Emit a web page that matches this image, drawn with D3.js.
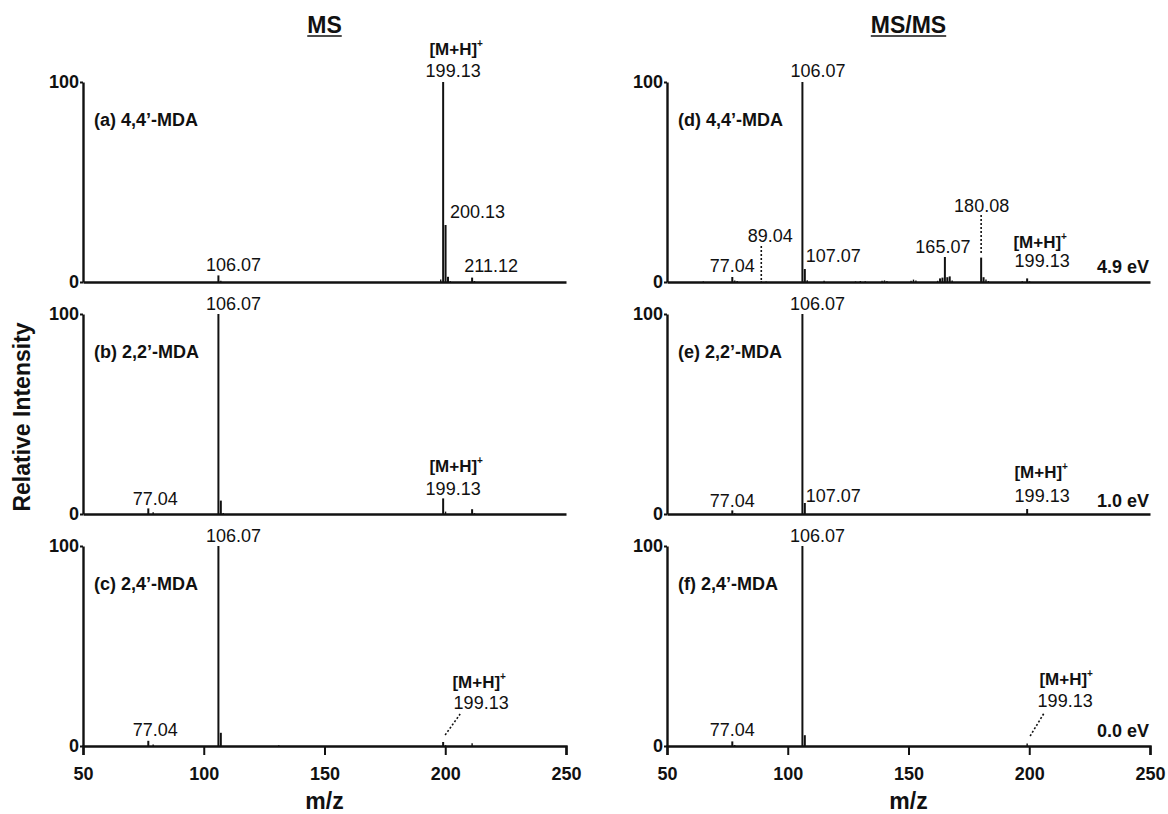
<!DOCTYPE html>
<html>
<head>
<meta charset="utf-8">
<script src="https://cdn.jsdelivr.net/npm/d3@7"></script>
<style>
  body { margin: 0; background: #fff; }
  svg text { font-family: "Liberation Sans", Arial, Helvetica, sans-serif; fill: #111; }
</style>
</head>
<body>
<svg id="chart" width="1168" height="814"></svg>
<script>
'use strict';

//#region data
const mzTicks = [50, 100, 150, 200, 250];
const intTicks = [0, 100];
const columnTitles = ['MS', 'MS/MS'];
const panelNames = ['(a) 4,4’-MDA', '(b) 2,2’-MDA', '(c) 2,4’-MDA', '(d) 4,4’-MDA', '(e) 2,2’-MDA', '(f) 2,4’-MDA'];
const energies = ['', '', '', '4.9 eV', '1.0 eV', '0.0 eV'];

// [m/z, relative intensity %]
const peaksA = [[106.07, 3.3], [107.07, 0.6], [198.12, 1.2], [199.13, 100], [200.13, 28.5], [201.13, 2.6], [202.1, 0.4], [211.12, 2.2], [212.12, 0.5]];
const peaksB = [[77.04, 2.8], [79.05, 0.9], [106.07, 100], [107.07, 6.7], [108.08, 0.5], [199.13, 7.8], [200.13, 1.2], [211.12, 2.4], [212.12, 0.4]];
const peaksC = [[77.04, 2.6], [79.05, 0.8], [106.07, 100], [107.07, 6.6], [131.07, 0.4], [199.13, 2.0], [200.13, 0.4], [211.12, 1.4]];
const peaksD = [[65.05, 0.3], [77.04, 2.5], [78.05, 0.8], [79.05, 0.5], [89.04, 0.4], [91.05, 0.3], [106.07, 100], [107.07, 6.5], [108.07, 0.9],
  [115.05, 0.6], [128.06, 0.3], [130.07, 0.5], [132.08, 0.4], [139.05, 0.6], [140.06, 0.8], [141.07, 0.5], [151.05, 0.6], [152.06, 1.2],
  [153.07, 0.8], [162.06, 0.6], [163.06, 1.8], [164.06, 2.2], [165.07, 12.5], [166.07, 2.4], [167.07, 2.8], [168.08, 0.7], [180.08, 12.2],
  [181.08, 2.4], [182.08, 1.3], [183.09, 0.5], [197.11, 0.4], [199.13, 1.8], [200.13, 0.4]];
const peaksE = [[77.04, 1.8], [78.05, 0.4], [106.07, 100], [107.07, 5.5], [199.13, 2.5]];
const peaksF = [[77.04, 2.3], [78.05, 0.5], [106.07, 100], [107.07, 5.4], [199.13, 1.2]];

// peak annotations: text, m/z, height (intensity units) of the text baseline
const notesA = [['[M+H]', 199.13, 113.5], ['199.13', 199.13, 102.5], ['200.13', 200.13, 32], ['211.12', 211.12, 5], ['106.07', 106.07, 5.5]];
const notesB = [['106.07', 106.07, 102], ['77.04', 77.04, 4.5], ['[M+H]', 199.13, 21], ['199.13', 199.13, 9.5]];
const notesC = [['106.07', 106.07, 102], ['77.04', 77.04, 5], ['[M+H]', 199.13, 29], ['199.13', 199.13, 18.5]];
const notesD = [['106.07', 106.07, 102.5], ['77.04', 77.04, 5], ['89.04', 89.04, 20], ['107.07', 107.07, 10], ['165.07', 165.07, 14.5],
  ['180.08', 180.08, 35], ['[M+H]', 199.13, 17], ['199.13', 199.13, 7.5]];
const notesE = [['106.07', 106.07, 102], ['77.04', 77.04, 3.5], ['107.07', 107.07, 6], ['[M+H]', 199.13, 18], ['199.13', 199.13, 6]];
const notesF = [['106.07', 106.07, 102], ['77.04', 77.04, 5], ['[M+H]', 199.13, 30.5], ['199.13', 199.13, 19.5]];

// dotted leader lines: m/z, from intensity, to intensity
const leadersC = [[199.13, 5.5, 16]];
const leadersD = [[89.04, 1, 18], [180.08, 14.5, 33.5]];
const leadersF = [[199.13, 5, 16.5]];
//#endregion

const peaks = [peaksA, peaksB, peaksC, peaksD, peaksE, peaksF];
const notes = [notesA, notesB, notesC, notesD, notesE, notesF];
const leaders = [[], [], leadersC, leadersD, [], leadersF];

// horizontal nudges of the annotations (px), per panel, same order as notes
const noteShift = [
  [[13, 'middle'], [10, 'middle'], [4.5, 'start'], [19, 'middle'], [15, 'middle']],
  [[15, 'middle'], [7, 'middle'], [13, 'middle'], [10, 'middle']],
  [[15, 'middle'], [7, 'middle'], [36, 'middle'], [38, 'middle']],
  [[15.5, 'middle'], [0, 'middle'], [9, 'middle'], [1, 'start'], [-2, 'middle'], [0.5, 'middle'], [13, 'middle'], [15, 'middle']],
  [[15, 'middle'], [0, 'middle'], [1, 'start'], [14, 'middle'], [15, 'middle']],
  [[15, 'middle'], [0, 'middle'], [39, 'middle'], [38, 'middle']]
];
const leaderShift = [[], [], [[2, 17]], [[0, 0], [0, 0]], [], [[3, 17]]];

//layout
const colX = [83, 667];
const plotW = 483;
const rowY = [82, 314, 546];
const plotH = 200;

const svg = d3.select('#chart');

//column titles, underlined
columnTitles.forEach(function(t, c) {
  let cx = colX[c] + plotW / 2;
  let txt = svg.append('text').text(t).attr('x', cx).attr('y', 33)
    .attr('text-anchor', 'middle').style('font-size', '23px').style('font-weight', 'bold');
  let len = txt.node().getComputedTextLength();
  svg.append('line').attr('x1', cx - len / 2).attr('x2', cx + len / 2).attr('y1', 36).attr('y2', 36)
    .attr('stroke', '#111').attr('stroke-width', 1.6);
});

//axis titles
svg.append('text').text('Relative Intensity').attr('transform', 'translate(30,417) rotate(-90)')
  .attr('text-anchor', 'middle').style('font-size', '23px').style('font-weight', 'bold');
colX.forEach(function(x0) {
  svg.append('text').text('m/z').attr('x', x0 + plotW / 2).attr('y', 809)
    .attr('text-anchor', 'middle').style('font-size', '23px').style('font-weight', 'bold');
});

for (let p = 0; p < 6; p++) {
  let c = Math.floor(p / 3);
  let r = p % 3;
  let x = d3.scaleLinear().domain([50, 250]).range([colX[c], colX[c] + plotW]);
  let y = d3.scaleLinear().domain([0, 100]).range([rowY[r] + plotH, rowY[r]]);
  let g = svg.append('g');

  //peaks (stick spectrum)
  g.selectAll('.peak').data(peaks[p]).enter().append('line').attr('class', 'peak')
    .attr('x1', d => x(d[0])).attr('x2', d => x(d[0]))
    .attr('y1', y(0)).attr('y2', d => y(d[1]))
    .attr('stroke', '#111').attr('stroke-width', d => d[1] >= 1.5 ? 2 : 1.4);

  //x axis
  let xAxis = d3.axisBottom(x).tickSizeOuter(0);
  if (r === 2) xAxis.tickValues(mzTicks).tickSize(9).tickPadding(12);
  else xAxis.tickValues([]);
  let gx = g.append('g').attr('transform', `translate(0,${y(0)})`).call(xAxis);
  gx.select('.domain').attr('stroke', '#111').attr('stroke-width', 2.4);
  gx.selectAll('.tick line').attr('stroke', '#111').attr('stroke-width', 2);
  gx.selectAll('.tick text').attr('fill', '#111').style('font-size', '18px').style('font-weight', 'bold')
    .style('font-family', '"Liberation Sans", Arial, sans-serif');

  //y axis
  let gy = g.append('g').attr('transform', `translate(${colX[c]},0)`)
    .call(d3.axisLeft(y).tickValues(intTicks).tickSize(3).tickSizeOuter(0).tickPadding(1));
  gy.select('.domain').attr('stroke', '#111').attr('stroke-width', 2.4);
  gy.selectAll('.tick line').attr('stroke', '#111').attr('stroke-width', 2);
  gy.selectAll('.tick text').attr('fill', '#111').style('font-size', '18px').style('font-weight', 'bold')
    .style('font-family', '"Liberation Sans", Arial, sans-serif');

  //panel name
  g.append('text').text(panelNames[p]).attr('x', colX[c] + 11).attr('y', y(78))
    .style('font-size', '18px').style('font-weight', 'bold');

  //collision energy
  if (energies[p]) {
    g.append('text').text(energies[p]).attr('x', colX[c] + plotW - 1).attr('y', y(p === 4 ? 3.5 : 4.5))
      .attr('text-anchor', 'end').style('font-size', '18px').style('font-weight', 'bold');
  }

  //annotations
  notes[p].forEach(function(n, i) {
    let s = noteShift[p][i];
    let t = g.append('text').attr('x', x(n[1]) + s[0]).attr('y', y(n[2])).attr('text-anchor', s[1]);
    if (n[0] === '[M+H]') {
      t.style('font-size', '17px').style('font-weight', 'bold');
      t.append('tspan').text(n[0]);
      t.append('tspan').text('+').attr('dy', -8).style('font-size', '10px');
    }
    else {
      t.text(n[0]).style('font-size', '18px');
    }
  });

  //dotted leaders
  leaders[p].forEach(function(l, i) {
    let s = leaderShift[p][i];
    g.append('line').attr('x1', x(l[0]) + s[0]).attr('x2', x(l[0]) + s[1])
      .attr('y1', y(l[1])).attr('y2', y(l[2]))
      .attr('stroke', '#111').attr('stroke-width', 1.6).attr('stroke-dasharray', '2,2');
  });
}
</script>
</body>
</html>
